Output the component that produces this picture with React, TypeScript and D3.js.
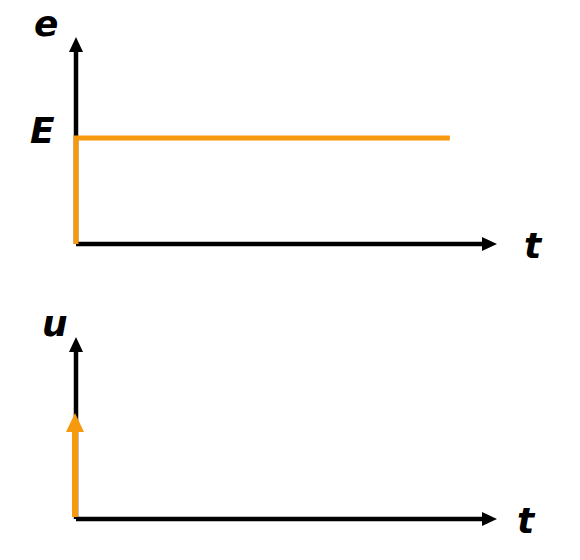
import React from "react";
import * as d3 from "d3";

const tDomain = [0, 10];
const eStep = [
  { t: 0, v: 0 },
  { t: 0, v: 1 },
  { t: 8.88, v: 1 },
];
const uImpulse = [{ t: 0, v: 1 }];
const yLabels = ["e", "u"];
const levelLabel = "E";
const xLabel = "t";

const ORANGE = "#f7990c";
const FONT = "'DejaVu Sans', Verdana, sans-serif";

export default function App() {
  const x = d3.scaleLinear().domain(tDomain).range([76, 497]);
  const yTop = d3.scaleLinear().domain([0, 1.953]).range([244, 37]);
  const yBot = d3.scaleLinear().domain([0, 1.717]).range([519, 337]);
  const line = d3
    .line<{ t: number; v: number }>()
    .x((d) => x(d.t))
    .y((d) => yTop(d.v));

  const axes = (y: d3.ScaleLinear<number, number>) => {
    const x0 = x(0);
    const y0 = y(0);
    const yTip = y.range()[1];
    const xTip = x.range()[1];
    return (
      <g>
        <line x1={x0} y1={y0} x2={x0} y2={yTip + 12} stroke="#000" strokeWidth={4.5} />
        <path d={`M${x0},${yTip} L${x0 - 7},${yTip + 15} L${x0 + 7},${yTip + 15} Z`} fill="#000" />
        <line x1={x0} y1={y0} x2={xTip - 12} y2={y0} stroke="#000" strokeWidth={4.5} />
        <path d={`M${xTip},${y0} L${xTip - 15},${y0 - 7} L${xTip - 15},${y0 + 7} Z`} fill="#000" />
      </g>
    );
  };

  const textStyle = {
    fontFamily: FONT,
    fontWeight: "bold" as const,
    fontStyle: "italic" as const,
    fontSize: 36,
  };

  const imp = uImpulse[0];
  const ix = x(imp.t);
  const iy = yBot(imp.v);

  return (
    <svg
      width={580}
      height={560}
      style={{ position: "absolute", left: 0, top: 0, background: "#fff" }}
    >
      {axes(yTop)}
      <path d={line(eStep) || ""} fill="none" stroke={ORANGE} strokeWidth={5} />
      {axes(yBot)}
      <line x1={ix - 1} y1={yBot(0) - 2} x2={ix - 1} y2={iy + 16} stroke={ORANGE} strokeWidth={6} />
      <path d={`M${ix - 1},${iy} L${ix - 10},${iy + 19} L${ix + 8},${iy + 19} Z`} fill={ORANGE} />
      <text x={34} y={36} {...textStyle}>{yLabels[0]}</text>
      <text x={30} y={143} {...textStyle}>{levelLabel}</text>
      <text x={524} y={258} {...textStyle}>{xLabel}</text>
      <text x={42} y={336} {...textStyle}>{yLabels[1]}</text>
      <text x={517} y={533} {...textStyle}>{xLabel}</text>
    </svg>
  );
}
